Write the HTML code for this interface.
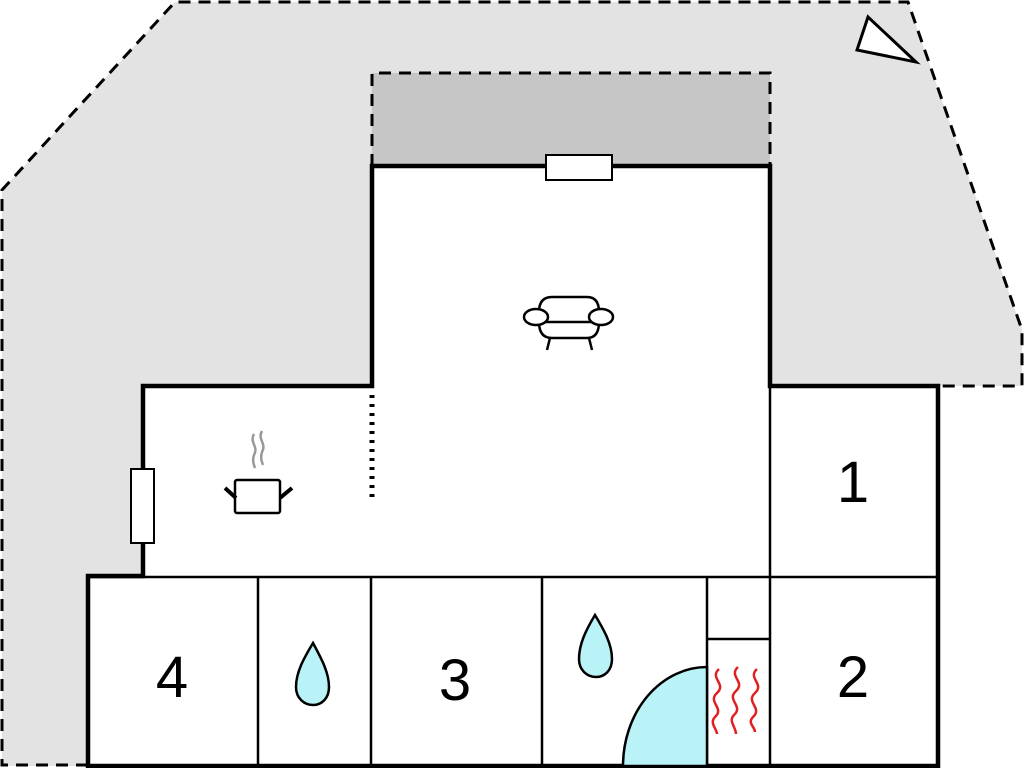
<!DOCTYPE html>
<html><head><style>body{margin:0;background:#fff}svg{display:block}</style></head><body>
<svg width="1024" height="768" viewBox="0 0 1024 768" xmlns="http://www.w3.org/2000/svg">
<polygon points="175,2 908,2 1022,330 1022,386 938,386 938,766 88,766 2,766 2,190" fill="#e3e3e3"/>
<polyline points="88,765 2,765 2,190 175,2 908,2 1022,330 1022,386 938,386" fill="none" stroke="#000" stroke-width="3" stroke-dasharray="12,8"/>
<rect x="372" y="73" width="398" height="93" fill="#c6c6c6"/>
<polyline points="372,166 372,73 770,73 770,166" fill="none" stroke="#000" stroke-width="3" stroke-dasharray="12,8"/>
<polygon points="88,576 143,576 143,386 372,386 372,166 770,166 770,386 938,386 938,766 88,766" fill="#fff"/>
<g stroke="#000" stroke-width="2.5" fill="none">
<line x1="88" y1="577" x2="938" y2="577"/>
<line x1="770" y1="386" x2="770" y2="766"/>
<line x1="258" y1="577" x2="258" y2="766"/>
<line x1="371" y1="577" x2="371" y2="766"/>
<line x1="542" y1="577" x2="542" y2="766"/>
<line x1="707" y1="577" x2="707" y2="766"/>
<line x1="707" y1="639" x2="770" y2="639"/>
</g>
<polygon points="88,576 143,576 143,386 372,386 372,166 770,166 770,386 938,386 938,766 88,766" fill="none" stroke="#000" stroke-width="4.5"/>
<line x1="372" y1="395" x2="372" y2="500" stroke="#000" stroke-width="5" stroke-dasharray="3,6"/>
<rect x="546" y="155" width="66" height="25" fill="#fff" stroke="#000" stroke-width="2"/>
<rect x="131" y="469" width="23" height="74" fill="#fff" stroke="#000" stroke-width="2"/>
<polygon points="868,17 857,50 916,62" fill="#fff" stroke="#000" stroke-width="3"/>
<path d="M707,766 L623,766 A84,99 0 0 1 707,667 Z" fill="#b9f3f7" stroke="#000" stroke-width="2.5"/>
<path d="M313,643 C304,658 296,672 296,687 C296,698 304,705 313,705 C322,705 329,698 329,687 C329,672 321,658 313,643 Z" fill="#b9f3f7" stroke="#000" stroke-width="2.5"/>
<path d="M595,615 C586,630 579,644 579,659 C579,670 587,677 596,677 C605,677 612,670 612,659 C612,644 604,630 595,615 Z" fill="#b9f3f7" stroke="#000" stroke-width="2.5"/>
<g stroke="#e32020" stroke-width="2.5" fill="none">
<path d="M719,669 c-10,9 8,15 -2,24 c-10,9 8,15 -2,24 c-6,6 2,12 2,17"/>
<path d="M738,667 c-10,9 8,15 -2,24 c-10,9 8,15 -2,24 c-6,6 2,12 2,19"/>
<path d="M757,669 c-10,9 8,15 -2,24 c-10,9 8,15 -2,24 c-6,6 2,10 2,15"/>
</g>
<g stroke="#000" stroke-width="2.5" fill="#fff">
<path d="M539,312 Q539,297 552,297 L587,297 Q599,297 599,312"/>
<path d="M539,322 Q539,338 552,338 L587,338 Q599,338 599,322"/>
<line x1="550" y1="338" x2="547" y2="350"/><line x1="589" y1="338" x2="592" y2="350"/>
<line x1="545" y1="322" x2="593" y2="322"/>
<ellipse cx="536" cy="317" rx="12" ry="8"/>
<ellipse cx="601" cy="317" rx="12" ry="8"/>
</g>
<g stroke="#999" stroke-width="2.5" fill="none">
<path d="M254,434 c-5,9 5,12 0,21 c-2,6 0,10 1,13"/>
<path d="M262,431 c-5,9 5,12 0,21 c-2,6 0,10 1,13"/>
</g>
<rect x="235" y="480" width="45" height="33" rx="2" fill="#fff" stroke="#000" stroke-width="2.5"/>
<line x1="225" y1="488" x2="236" y2="498" stroke="#000" stroke-width="4"/>
<line x1="292" y1="488" x2="280" y2="498" stroke="#000" stroke-width="4"/>
<g font-family="Liberation Sans, sans-serif" font-size="58" fill="#000" text-anchor="middle">
<text x="853" y="502">1</text>
<text x="853" y="697">2</text>
<text x="455" y="700">3</text>
<text x="172" y="697">4</text>
</g>
</svg>
</body></html>
